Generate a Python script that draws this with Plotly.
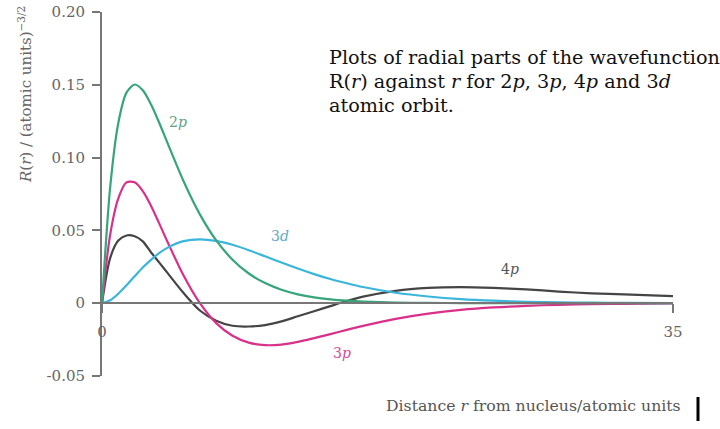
import plotly.graph_objects as go

# distance r (atomic units)
r = [0, 0.5, 1, 1.5, 2, 2.5, 3, 3.5, 4, 5, 6, 7, 8, 9, 10, 11, 12, 13, 14, 15,
     16, 18, 20, 22, 24, 26, 28, 30, 32, 35]

# R(r) values
R_2p = [0, 0.0795, 0.1238, 0.1446, 0.1502, 0.1462, 0.1366, 0.1241, 0.1105, 0.0838,
        0.0610, 0.0431, 0.0299, 0.0204, 0.0138, 0.0092, 0.0061, 0.0040, 0.0026, 0.0017,
        0.0011, 0.00045, 0.00018, 0.0001, 0, 0, 0, 0, 0, 0]
R_3p = [0, 0.047, 0.072, 0.083, 0.083, 0.077, 0.067, 0.055, 0.0425, 0.019,
        0, -0.0137, -0.0224, -0.0271, -0.0288, -0.0284, -0.0266, -0.0240, -0.0212, -0.0183,
        -0.0156, -0.0108, -0.0072, -0.0046, -0.0029, -0.0018, -0.0011, -0.0007, -0.0004, -0.0002]
R_4p = [0, 0.031, 0.043, 0.0465, 0.046, 0.0425, 0.035, 0.028, 0.021, 0.007,
        -0.005, -0.012, -0.0155, -0.016, -0.015, -0.0125, -0.009, -0.0055, -0.002, 0.0015,
        0.0045, 0.0085, 0.0105, 0.011, 0.0105, 0.0095, 0.008, 0.0068, 0.006, 0.0048]
R_3d = [0, 0.002, 0.0065, 0.0123, 0.0185, 0.0245, 0.0298, 0.0344, 0.038, 0.0426,
        0.0439, 0.0428, 0.0401, 0.0364, 0.0322, 0.0279, 0.0238, 0.0200, 0.0166, 0.0137,
        0.0111, 0.0072, 0.0046, 0.0028, 0.0017, 0.0010, 0.0006, 0.0004, 0.0002, 0.0001]

series_names = ["2p", "3p", "4p", "3d"]
y_ticks = [-0.05, 0, 0.05, 0.10, 0.15, 0.20]
y_tick_text = ["-0.05", "0", "0.05", "0.10", "0.15", "0.20"]
x_ticks = [0, 35]
x_tick_text = ["0", "35"]

colors = {"2p": "#36a57a", "3p": "#d9308a", "4p": "#454545", "3d": "#3ab5dc"}
label_colors = {"2p": "#5f9f8c", "3p": "#d9479a", "4p": "#555555", "3d": "#5fa9c8"}
values = {"2p": R_2p, "3p": R_3p, "4p": R_4p, "3d": R_3d}

FONT = "DejaVu Serif"

W, H = 720, 429
L, T = 102, 12
R = W - 673
B = H - 376
PW, PH = W - L - R, H - T - B


def px(sx):
    return (sx - L) / PW


def py(sy):
    return (H - B - sy) / PH


fig = go.Figure()
for name in ["4p", "3p", "3d", "2p"]:
    fig.add_trace(go.Scatter(
        x=r, y=values[name], mode="lines", name=name,
        line=dict(color=colors[name], width=2.2, shape="spline", smoothing=0.8),
        showlegend=False, hoverinfo="skip"))

label_pos = {"2p": (4.63, 0.1247), "3d": (10.9, 0.0459), "3p": (14.7, -0.0342), "4p": (25.0, 0.0233)}
for name, (lx, ly) in label_pos.items():
    fig.add_annotation(x=lx, y=ly, xref="x", yref="y", showarrow=False,
                       text=f"{name[0]}<i>{name[1]}</i>",
                       font=dict(family=FONT, size=14, color=label_colors[name]))

lines = ["Plots of radial parts of the wavefunction",
         "R(<i>r</i>) against <i>r</i> for 2<i>p</i>, 3<i>p</i>, 4<i>p</i> and 3<i>d</i>",
         "atomic orbit."]
for i, t in enumerate(lines):
    fig.add_annotation(x=px(327), y=py(57 + 24.5 * i), xref="paper", yref="paper",
                       xanchor="left", yanchor="middle", showarrow=False, text=t,
                       font=dict(family=FONT, size=19.2, color="#111111"))

fig.add_annotation(x=px(25), y=py(95), xref="paper", yref="paper",
                   xanchor="center", yanchor="middle",
                   showarrow=False, textangle=-90,
                   text="<i>R</i>(<i>r</i>) / (atomic units)<sup>−3/2</sup>",
                   font=dict(family=FONT, size=15, color="#666666"))
fig.add_annotation(x=px(683), y=py(405), xref="paper", yref="paper",
                   xanchor="right", yanchor="middle", showarrow=False,
                   text="Distance <i>r</i> from nucleus/atomic units",
                   font=dict(family=FONT, size=15.7, color="#555555"))

fig.add_shape(type="line", xref="paper", yref="paper",
              x0=px(698), x1=px(698), y0=py(397), y1=py(421),
              line=dict(color="black", width=3))

fig.update_layout(
    width=W, height=H,
    margin=dict(l=L, r=R, t=T, b=B, autoexpand=False),
    paper_bgcolor="white", plot_bgcolor="white",
    xaxis=dict(range=[0, 35], anchor="free", position=0.2, showline=True,
               linecolor="#777777", linewidth=2, ticks="outside", ticklen=9,
               tickwidth=2, tickcolor="#777777", tickvals=x_ticks, ticktext=x_tick_text,
               ticklabelstandoff=6, showgrid=False, zeroline=False, automargin=False,
               ticklabeloverflow="allow",
               tickfont=dict(family=FONT, size=15, color="#666666")),
    yaxis=dict(range=[-0.05, 0.20], showline=True, linecolor="#777777", linewidth=2,
               ticks="outside", ticklen=8, tickwidth=2, tickcolor="#777777",
               tickvals=y_ticks, ticktext=y_tick_text, showgrid=False, zeroline=False,
               ticklabelstandoff=4, automargin=False, ticklabeloverflow="allow",
               tickfont=dict(family=FONT, size=15, color="#666666")),
)

fig.write_html("out.html", config={"displayModeBar": False},
               post_script="document.body.style.margin='0';")
